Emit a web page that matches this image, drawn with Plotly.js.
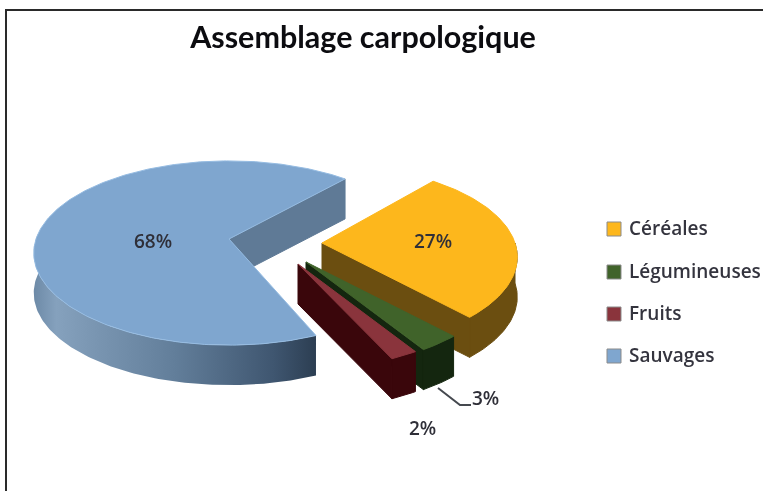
<!DOCTYPE html>
<html>
<head>
<meta charset="utf-8">
<script src="https://cdn.plot.ly/plotly-3.0.1.min.js"></script>
<style>
html,body{margin:0;padding:0;background:#fff;overflow:hidden}
#chart{width:763px;height:491px;filter:blur(0.7px)}
</style>
</head>
<body>
<div id="chart"></div>
<script>
// Data
const chartTitle = "Assemblage carpologique";
const categories = ["Céréales", "Légumineuses", "Fruits", "Sauvages"];
const percents = [27, 3, 2, 68];

// Pseudo-3D pie geometry: axes are set up in page pixels
const W = 763, H = 491;
const firstAngle = 40;            // degrees clockwise from 12 o'clock
const sliceTwist = [0, 0, 0, 2];  // small per-slice rotation of the exploded pieces
const radiusX = 193, radiusY = 90, perspective = 0.152, depth = 40;
const apexX = [322, 306, 298, 229];
const apexY = [243, 262, 264, 239];

// Styles
const topColors = ["#fdb71c", "#40632a", "#8a343c", "#7fa6cf"];
const rimColors = ["#fdb71c", "#40632a", "#8a343c", "#96bce2"];
const cutColors = ["#6b4e10", "#14260f", "#3a060b", "#5f7a96"];
const wallLines = ["#6b4e10", "#14260f", "#3a060b", "rgba(0,0,0,0)"];
const wallScales = [
  [[0, "#6b4e10"], [1, "#6b4e10"]],
  [[0, "#14260f"], [1, "#14260f"]],
  [[0, "#3a060b"], [1, "#3a060b"]],
  [[0, "#6d8aa7"], [0.08, "#85a1bd"], [0.5, "#627e9a"], [0.85, "#3f5670"], [1, "#2c3e52"]]
];
const legendY = [229, 272, 314, 356];
const legendMarkX = 614, legendTextX = 627, legendTextShift = -1.5;
const titleFont = "Lato, 'Open Sans', sans-serif";
const textFont = "'Open Sans', Lato, sans-serif";

function project(deg, cx, cy) {
  const r = deg * Math.PI / 180, u = Math.sin(r), v = -Math.cos(r);
  const s = 1 / (1 - perspective * v);
  return [cx + radiusX * u * s, cy + radiusY * v * s];
}
function polygon(xs, ys, extra) {
  return Object.assign({
    type: "scatter", mode: "lines", x: xs, y: ys, fill: "toself",
    line: {width: 0}, hoverinfo: "skip", showlegend: false
  }, extra);
}

// slice angular spans from the percentages
const total = percents.reduce((a, b) => a + b, 0);
const spans = [];
let acc = firstAngle;
percents.forEach((p, i) => {
  const e = acc + p / total * 360;
  spans.push([acc + sliceTwist[i], e + sliceTwist[i]]);
  acc = e;
});

const traces = [];
[3, 0, 1, 2].forEach(i => {
  const cx = apexX[i], cy = apexY[i], a0 = spans[i][0], a1 = spans[i][1];
  const arc = [];
  for (let d = a0; d < a1; d += 1) arc.push(project(d, cx, cy));
  arc.push(project(a1, cx, cy));
  const ax = arc.map(p => p[0]), ay = arc.map(p => p[1]);
  const last = arc[arc.length - 1];

  // cut face at the clockwise end of the slice, the one that looks at the viewer
  traces.push(polygon(
    [cx, last[0], last[0], cx, cx],
    [cy, last[1], last[1] + depth, cy + depth, cy],
    {fillcolor: cutColors[i], line: {width: 1, color: cutColors[i]}}));

  // outer wall, front half only
  const front = [];
  for (let d = Math.max(a0, 90); d < Math.min(a1, 274); d += 1) front.push(project(d, cx, cy));
  front.push(project(Math.min(a1, 274), cx, cy));
  const fx = front.map(p => p[0]), fy = front.map(p => p[1]);
  traces.push(polygon(
    fx.concat(fx.slice().reverse(), [fx[0]]),
    fy.concat(fy.slice().reverse().map(y => y + depth), [fy[0]]),
    {fillgradient: {type: "horizontal", colorscale: wallScales[i]},
     line: {width: 1, color: wallLines[i]}}));

  // top face
  traces.push(polygon(
    [cx].concat(ax, [cx]), [cy].concat(ay, [cy]),
    {fillcolor: topColors[i], line: {width: 1, color: rimColors[i]}}));
});

// Legend entries
categories.forEach((c, i) => {
  traces.push({
    type: "scatter", mode: "markers", name: c,
    x: [legendMarkX], y: [legendY[i]],
    marker: {symbol: "square", size: 14, color: topColors[i], line: {width: 1, color: "#8b8b8b"}},
    hoverinfo: "name", showlegend: false
  });
});

const labelPos = [[433, 241], [485, 398], [422, 428], [153, 241]];
const annotations = percents.map((p, i) => ({
  x: labelPos[i][0], y: labelPos[i][1], text: p + "%", showarrow: false,
  xanchor: "center", yanchor: "middle",
  font: {family: textFont, size: 19, color: "#2f2f38", weight: 600}
})).concat(categories.map((c, i) => ({
  x: legendTextX, y: legendY[i] + legendTextShift, text: c, showarrow: false,
  xanchor: "left", yanchor: "middle",
  font: {family: textFont, size: 19, color: "#34343e", weight: 600}
})));

const layout = {
  width: W, height: H,
  margin: {l: 0, r: 0, t: 0, b: 0},
  paper_bgcolor: "#ffffff", plot_bgcolor: "#ffffff",
  showlegend: false,
  title: {
    text: chartTitle, x: 363 / W, xanchor: "center", y: 1 - 37 / H, yanchor: "middle",
    font: {family: titleFont, size: 30.5, color: "#0c0c10", weight: 700}
  },
  xaxis: {range: [0, W], visible: false, fixedrange: true},
  yaxis: {range: [H, 0], visible: false, fixedrange: true},
  annotations: annotations,
  shapes: [
    {type: "line", x0: 6, x1: 6, y0: 10, y1: H, line: {color: "#2a2a2a", width: 2}},
    {type: "line", x0: 5, x1: W, y0: 10, y1: 10, line: {color: "#2a2a2a", width: 2}},
    {type: "path", path: "M 438 388 L 460 405 L 471 405", line: {color: "#45494f", width: 2}}
  ]
};
Plotly.newPlot("chart", traces, layout, {displayModeBar: false, staticPlot: true});
</script>
</body>
</html>
